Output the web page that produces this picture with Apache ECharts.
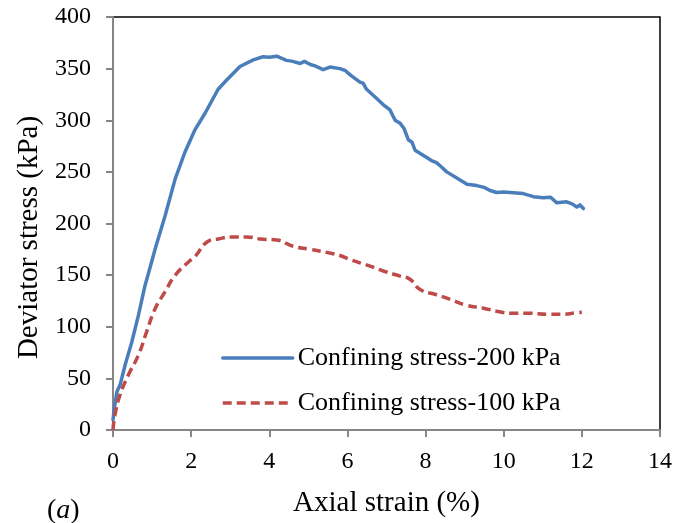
<!DOCTYPE html>
<html>
<head>
<meta charset="utf-8">
<script src="https://cdn.jsdelivr.net/npm/echarts@6/dist/echarts.min.js"></script>
<style>html,body{margin:0;padding:0;background:#fff;}#chart{width:675px;height:523px;}</style>
</head>
<body>
<div id="chart"></div>
<script>
// Confining stress 200 kPa
var strain200 = [0, 0.03, 0.1, 0.18, 0.31, 0.48, 0.65, 0.82, 0.99, 1.08, 1.33, 1.59, 1.84, 2.1, 2.36, 2.69, 2.91, 3.25, 3.59, 3.84, 4.0, 4.19, 4.44, 4.6, 4.79, 4.9, 5.05, 5.17, 5.38, 5.55, 5.81, 5.95, 6.07, 6.32, 6.4, 6.49, 6.75, 6.92, 7.09, 7.22, 7.35, 7.45, 7.56, 7.65, 7.73, 8.03, 8.15, 8.28, 8.4, 8.54, 8.8, 9.06, 9.31, 9.5, 9.65, 9.82, 10.0, 10.16, 10.5, 10.76, 11.01, 11.2, 11.36, 11.61, 11.75, 11.87, 11.95, 12.04];
var stress200 = [10, 20, 37, 43.5, 63, 85, 111, 140, 163, 175.6, 207, 243, 269, 291, 307, 330, 339, 352, 358.5, 361.5, 361, 362, 358, 357, 355, 357, 354, 352.6, 349, 351.5, 350, 348, 344, 337, 336, 330, 321, 315, 310, 300, 297, 292, 281, 279, 271, 264, 261, 259, 255, 250, 244, 238, 236.7, 235, 232, 230, 230.5, 230, 229, 226, 225, 225.5, 220, 221, 219, 216, 218, 214.5];
// Confining stress 100 kPa
var strain100 = [0, 0.05, 0.18, 0.39, 0.65, 0.86, 1.08, 1.33, 1.59, 1.93, 2.1, 2.39, 2.69, 3.08, 3.42, 3.76, 4.19, 4.61, 5.04, 5.47, 5.81, 6.07, 6.58, 6.92, 7.35, 7.6, 7.86, 8.28, 8.63, 9.05, 9.48, 9.82, 10.25, 10.67, 11.1, 11.44, 11.87, 12.0];
var stress100 = [0, 14.5, 34, 53, 72.5, 95, 117.6, 133.7, 149.8, 162.7, 168, 181.6, 185, 187, 187, 185, 184, 178, 175, 172, 169, 165, 158.7, 154, 149, 146, 136, 131, 126.6, 120.8, 118, 115, 113, 113, 112, 112, 113.5, 114];
var xTicks = [0, 2, 4, 6, 8, 10, 12, 14];
var yTicks = [0, 50, 100, 150, 200, 250, 300, 350, 400];
var seriesNames = ['Confining stress-200 kPa', 'Confining stress-100 kPa'];

function pairs(xs, ys) { return xs.map(function (x, i) { return [x, ys[i]]; }); }

var FONT = "'Liberation Serif', 'Times New Roman', serif";
var chart = echarts.init(document.getElementById('chart'));
chart.setOption({
  animation: false,
  backgroundColor: '#ffffff',
  grid: { left: 113, right: 15, top: 17, bottom: 92, show: true, borderColor: '#000000', borderWidth: 1.5, backgroundColor: 'transparent' },
  xAxis: {
    type: 'value', min: xTicks[0], max: xTicks[xTicks.length - 1], interval: 2,
    name: 'Axial strain (%)', nameLocation: 'middle', nameGap: 59,
    nameTextStyle: { fontFamily: FONT, fontSize: 29, color: '#000' },
    axisLine: { show: true, lineStyle: { color: '#868686', width: 2 } },
    axisTick: { show: true, inside: false, length: 7, lineStyle: { color: '#868686', width: 2 } },
    axisLabel: { fontFamily: FONT, fontSize: 24, color: '#000', margin: 20 },
    splitLine: { show: false }
  },
  yAxis: {
    type: 'value', min: yTicks[0], max: yTicks[yTicks.length - 1], interval: 50,
    name: 'Deviator stress (kPa)', nameLocation: 'middle', nameGap: 68, nameRotate: 90,
    nameTextStyle: { fontFamily: FONT, fontSize: 29, color: '#000', padding: [0, 28, 0, 0] },
    axisLine: { show: true, lineStyle: { color: '#868686', width: 2 } },
    axisTick: { show: true, inside: false, length: 7, lineStyle: { color: '#868686', width: 2 } },
    axisLabel: { fontFamily: FONT, fontSize: 24, color: '#000', margin: 22 },
    splitLine: { show: false }
  },
  legend: {
    orient: 'vertical', left: 216, top: 338,
    itemWidth: 70, itemHeight: 14, itemGap: 15,
    itemStyle: { opacity: 0 },
    lineStyle: { width: 3.5 },
    textStyle: { fontFamily: FONT, fontSize: 26, color: '#000', lineHeight: 30 },
    data: seriesNames
  },
  graphic: [{
    type: 'text', left: 47, top: 497,
    style: {
      text: '{n|(}{i|a}{n|)}',
      rich: {
        n: { fontFamily: FONT, fontSize: 28, fill: '#000' },
        i: { fontFamily: FONT, fontSize: 28, fontStyle: 'italic', fill: '#000' }
      }
    }
  }],
  series: [{
    name: seriesNames[0], type: 'line', symbol: 'none', smooth: false,
    data: pairs(strain200, stress200),
    lineStyle: { color: '#4A7EBB', width: 3.5, join: 'round', cap: 'round' }, itemStyle: { color: '#4A7EBB' }
  }, {
    name: seriesNames[1], type: 'line', symbol: 'none', smooth: true,
    data: pairs(strain100, stress100),
    lineStyle: { color: '#BE4B48', width: 3.5, type: [9, 5] }, itemStyle: { color: '#BE4B48' }
  }]
});
</script>
</body>
</html>
